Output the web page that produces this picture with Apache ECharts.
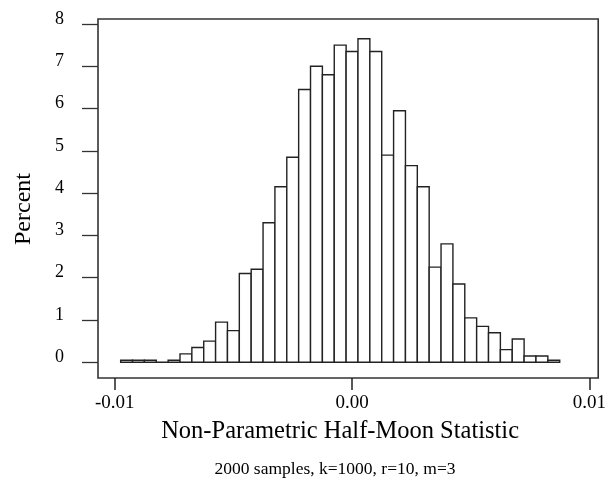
<!DOCTYPE html>
<html>
<head>
<meta charset="utf-8">
<script src="https://cdn.jsdelivr.net/npm/echarts@6/dist/echarts.min.js"></script>
<style>html,body{margin:0;padding:0;background:#fff}#c{width:609px;height:479px}</style>
</head>
<body>
<div id="c"></div>
<script>
// Histogram data: bin centers and percent of samples
var binCenters = [-0.0095, -0.009, -0.0085, -0.008, -0.0075, -0.007, -0.0065, -0.006, -0.0055, -0.005,
  -0.0045, -0.004, -0.0035, -0.003, -0.0025, -0.002, -0.0015, -0.001, -0.0005, 0.0,
  0.0005, 0.001, 0.0015, 0.002, 0.0025, 0.003, 0.0035, 0.004, 0.0045, 0.005,
  0.0055, 0.006, 0.0065, 0.007, 0.0075, 0.008, 0.0085];
var percents = [0.05, 0.05, 0.05, 0, 0.05, 0.2, 0.35, 0.5, 0.95, 0.75,
  2.1, 2.2, 3.3, 4.15, 4.85, 6.45, 7.0, 6.8, 7.5, 7.35,
  7.65, 7.35, 4.9, 5.95, 4.65, 4.15, 2.25, 2.8, 1.85, 1.05,
  0.85, 0.7, 0.3, 0.55, 0.15, 0.15, 0.05];
var binWidth = 0.0005;
var xTicks = [-0.01, 0, 0.01];
var yTicks = [0, 1, 2, 3, 4, 5, 6, 7, 8];
var xTitle = 'Non-Parametric Half-Moon Statistic';
var yTitle = 'Percent';
var subTitle = '2000 samples, k=1000, r=10, m=3';

var data = binCenters.map(function (c, i) { return [c, percents[i]]; });
var FONT = '"Liberation Serif", "Times New Roman", serif';

var chart = echarts.init(document.getElementById('c'), null, {renderer: 'canvas'});
chart.setOption({
  backgroundColor: '#fff',
  animation: false,
  grid: {left: 98, right: 3, top: 19, bottom: 101, show: true, borderColor: '#333', borderWidth: 1.6, backgroundColor: 'transparent'},
  title: {
    text: subTitle, left: 330, top: 455, textAlign: 'center',
    textStyle: {fontFamily: FONT, fontSize: 17.5, fontWeight: 'normal', color: '#000'}
  },
  xAxis: {
    type: 'value', min: -0.010705, max: 0.010373,
    name: xTitle, nameLocation: 'middle', nameGap: 41,
    nameTextStyle: {fontFamily: FONT, fontSize: 24.5, color: '#000', padding: [0, 16, 0, 0]},
    axisLine: {show: false, onZero: false},
    splitLine: {show: false},
    axisTick: {show: true, length: 12, customValues: xTicks, lineStyle: {color: '#222', width: 1.5}},
    axisLabel: {customValues: xTicks, margin: 16, fontFamily: FONT, fontSize: 19, color: '#000',
      formatter: function (v) { return v.toFixed(2); }}
  },
  yAxis: {
    type: 'value', min: -0.371, max: 8.118,
    name: yTitle, nameLocation: 'middle', nameGap: 62, nameRotate: 90,
    nameTextStyle: {fontFamily: FONT, fontSize: 24, color: '#000', padding: [0, 21, 0, 0]},
    axisLine: {show: false, onZero: false},
    splitLine: {show: false},
    axisTick: {show: true, length: 16, customValues: yTicks, lineStyle: {color: '#333', width: 1.3}},
    axisLabel: {customValues: yTicks, margin: 34, fontFamily: FONT, fontSize: 18, color: '#000',
      verticalAlign: 'bottom', lineHeight: 10}
  },
  series: [{
    type: 'custom',
    data: data,
    renderItem: function (params, api) {
      var c = api.value(0), v = api.value(1);
      var p0 = api.coord([c - binWidth / 2, v]);
      var p1 = api.coord([c + binWidth / 2, 0]);
      return {
        type: 'rect',
        shape: {x: p0[0], y: p0[1], width: p1[0] - p0[0], height: p1[1] - p0[1]},
        style: {fill: '#fff', stroke: '#222', lineWidth: 1.4}
      };
    }
  }]
});
</script>
</body>
</html>
